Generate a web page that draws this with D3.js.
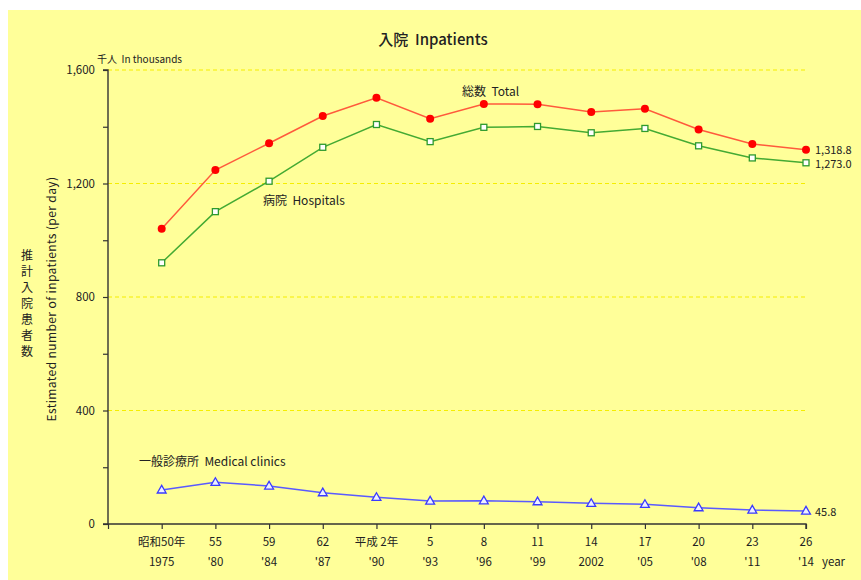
<!DOCTYPE html>
<html>
<head>
<meta charset="utf-8">
<script src="https://cdn.jsdelivr.net/npm/d3@7/dist/d3.min.js"></script>
<style>
  html, body { margin: 0; padding: 0; background: #ffffff; }
  svg { display: block; }
  text { font-family: "Noto Sans CJK JP", "Noto Sans", sans-serif; fill: #222; white-space: pre; }
</style>
</head>
<body>
<svg id="chart" width="861" height="580"></svg>
<script>
// Survey years: Japanese era label (top line) and Western year (bottom line)
const eraLabels  = ["昭和50年", "55", "59", "62", "平成 2年", "5", "8", "11", "14", "17", "20", "23", "26"];
const yearLabels = ["1975", "'80", "'84", "'87", "'90", "'93", "'96", "'99", "2002", "'05", "'08", "'11", "'14"];

// Estimated inpatients per day, thousands
const totalValues    = [1040.5, 1247.6, 1342.0, 1438.0, 1501.9, 1428.6, 1480.0, 1479.6, 1451.6, 1463.3, 1390.3, 1339.4, 1318.8];
const hospitalValues = [920.5, 1100.8, 1208.0, 1327.6, 1407.9, 1347.6, 1398.0, 1401.0, 1378.8, 1394.0, 1332.8, 1290.1, 1273.0];
const clinicValues   = [120.0, 146.8, 134.0, 110.4, 94.0, 81.0, 82.0, 78.6, 72.8, 69.3, 57.5, 49.3, 45.8];

const yTicks = [0, 400, 800, 1200, 1600];
const yMinorTicks = d3.range(0, 1601, 200);

const svg = d3.select("#chart");
const W = 861, H = 580;

// panel background
svg.append("rect").attr("x", 8).attr("y", 10).attr("width", W - 8).attr("height", H - 10)
  .attr("fill", "#ffff99");

const plotLeft = 108, plotRight = 806, plotTop = 70, plotBottom = 524;

// index 0 is the axis origin; survey years occupy 1..13
const x = d3.scaleLinear().domain([0, eraLabels.length]).range([plotLeft, plotRight]);
const y = d3.scaleLinear().domain([0, 1600]).range([plotBottom, plotTop]);

// dashed gridlines
svg.append("g").selectAll("line").data(yTicks.filter(d => d > 0)).join("line")
  .attr("x1", plotLeft).attr("x2", plotRight)
  .attr("y1", d => y(d)).attr("y2", d => y(d))
  .attr("stroke", "#f5ee00").attr("stroke-width", 1.2)
  .attr("stroke-dasharray", "4,3");

// y axis
const yAxis = d3.axisLeft(y).tickValues(yMinorTicks).tickSize(5).tickFormat("");
const gy = svg.append("g").attr("transform", `translate(${plotLeft},0)`).call(yAxis);
gy.select(".domain").attr("stroke", "#333").attr("stroke-width", 1.4).attr("d", `M-5,${plotTop}H0V${plotBottom}H-5`);
gy.selectAll(".tick line").attr("stroke", "#333").attr("stroke-width", 1.2);

svg.append("g").selectAll("text").data(yTicks).join("text")
  .attr("x", 95).attr("y", d => y(d) + 4)
  .attr("text-anchor", "end").attr("font-size", 11.5)
  .text(d => d3.format(",")(d));

// x axis
const xAxis = d3.axisBottom(x).tickValues(d3.range(0, eraLabels.length + 1)).tickSize(5).tickFormat("");
const gx = svg.append("g").attr("transform", `translate(0,${plotBottom})`).call(xAxis);
gx.select(".domain").attr("stroke", "#333").attr("stroke-width", 1.4).attr("d", `M${plotLeft},0H${plotRight}V5`);
gx.selectAll(".tick line").attr("stroke", "#333").attr("stroke-width", 1.2);

const xl = svg.append("g");
xl.selectAll("text.era").data(eraLabels).join("text").attr("class", "era")
  .attr("x", (d, i) => x(i + 1)).attr("y", 546)
  .attr("text-anchor", "middle").attr("font-size", 11.5).text(d => d);
xl.selectAll("text.yr").data(yearLabels).join("text").attr("class", "yr")
  .attr("x", (d, i) => x(i + 1)).attr("y", 566)
  .attr("text-anchor", "middle").attr("font-size", 11.5).text(d => d);
svg.append("text").attr("x", 822).attr("y", 566).attr("font-size", 11.5).text("year");

// series
const series = [
  { values: totalValues,    line: "#ff5a3c", marker: "circle" },
  { values: hospitalValues, line: "#44aa33", marker: "square" },
  { values: clinicValues,   line: "#5a5aff", marker: "triangle" }
];
const lineGen = d3.line().x((d, i) => x(i + 1)).y(d => y(d));

series.forEach(s => {
  svg.append("path").datum(s.values).attr("d", lineGen)
    .attr("fill", "none").attr("stroke", s.line).attr("stroke-width", 1.5);
  const g = svg.append("g");
  if (s.marker === "circle") {
    g.selectAll("circle").data(s.values).join("circle")
      .attr("cx", (d, i) => x(i + 1)).attr("cy", d => y(d)).attr("r", 4)
      .attr("fill", "#ff0000");
  } else if (s.marker === "square") {
    g.selectAll("rect").data(s.values).join("rect")
      .attr("x", (d, i) => x(i + 1) - 3).attr("y", d => y(d) - 3)
      .attr("width", 6).attr("height", 6)
      .attr("fill", "#ffffff").attr("stroke", "#2e9a2e").attr("stroke-width", 1.3);
  } else {
    const tri = d3.symbol().type(d3.symbolTriangle).size(34);
    g.selectAll("path").data(s.values).join("path")
      .attr("transform", (d, i) => `translate(${x(i + 1)},${y(d) + 0.5})`)
      .attr("d", tri)
      .attr("fill", "#eef0ff").attr("stroke", "#3a3aff").attr("stroke-width", 1.3);
  }
});

// end-of-series value labels
const last = eraLabels.length - 1;
const endLabels = [
  { v: totalValues[last], dy: 4 },
  { v: hospitalValues[last], dy: 5.5 },
  { v: clinicValues[last], dy: 5 }
];
svg.append("g").selectAll("text").data(endLabels).join("text")
  .attr("x", 815).attr("y", d => y(d.v) + d.dy)
  .attr("font-size", 11).text(d => d3.format(",.1f")(d.v));

// series names
svg.append("text").attr("x", 462).attr("y", 96).attr("font-size", 12).text("総数  Total");
svg.append("text").attr("x", 263).attr("y", 205).attr("font-size", 12).text("病院  Hospitals");
svg.append("text").attr("x", 139).attr("y", 466).attr("font-size", 12).text("一般診療所  Medical clinics");

// title and units
svg.append("text").attr("x", 433).attr("y", 45).attr("text-anchor", "middle")
  .attr("font-size", 15).attr("font-weight", 500).text("入院  Inpatients");
svg.append("text").attr("x", 97).attr("y", 63).attr("font-size", 10).text("千人  In thousands");

// vertical axis titles
const jpTitle = "推計入院患者数";
svg.append("g").selectAll("text").data(Array.from(jpTitle)).join("text")
  .attr("x", 27).attr("y", (d, i) => 260 + i * 16)
  .attr("text-anchor", "middle").attr("font-size", 12).text(d => d);
svg.append("text")
  .attr("transform", "translate(56,299) rotate(-90)")
  .attr("text-anchor", "middle").attr("font-size", 12).attr("letter-spacing", 0.4)
  .text("Estimated number of inpatients (per day)");
</script>
</body>
</html>
